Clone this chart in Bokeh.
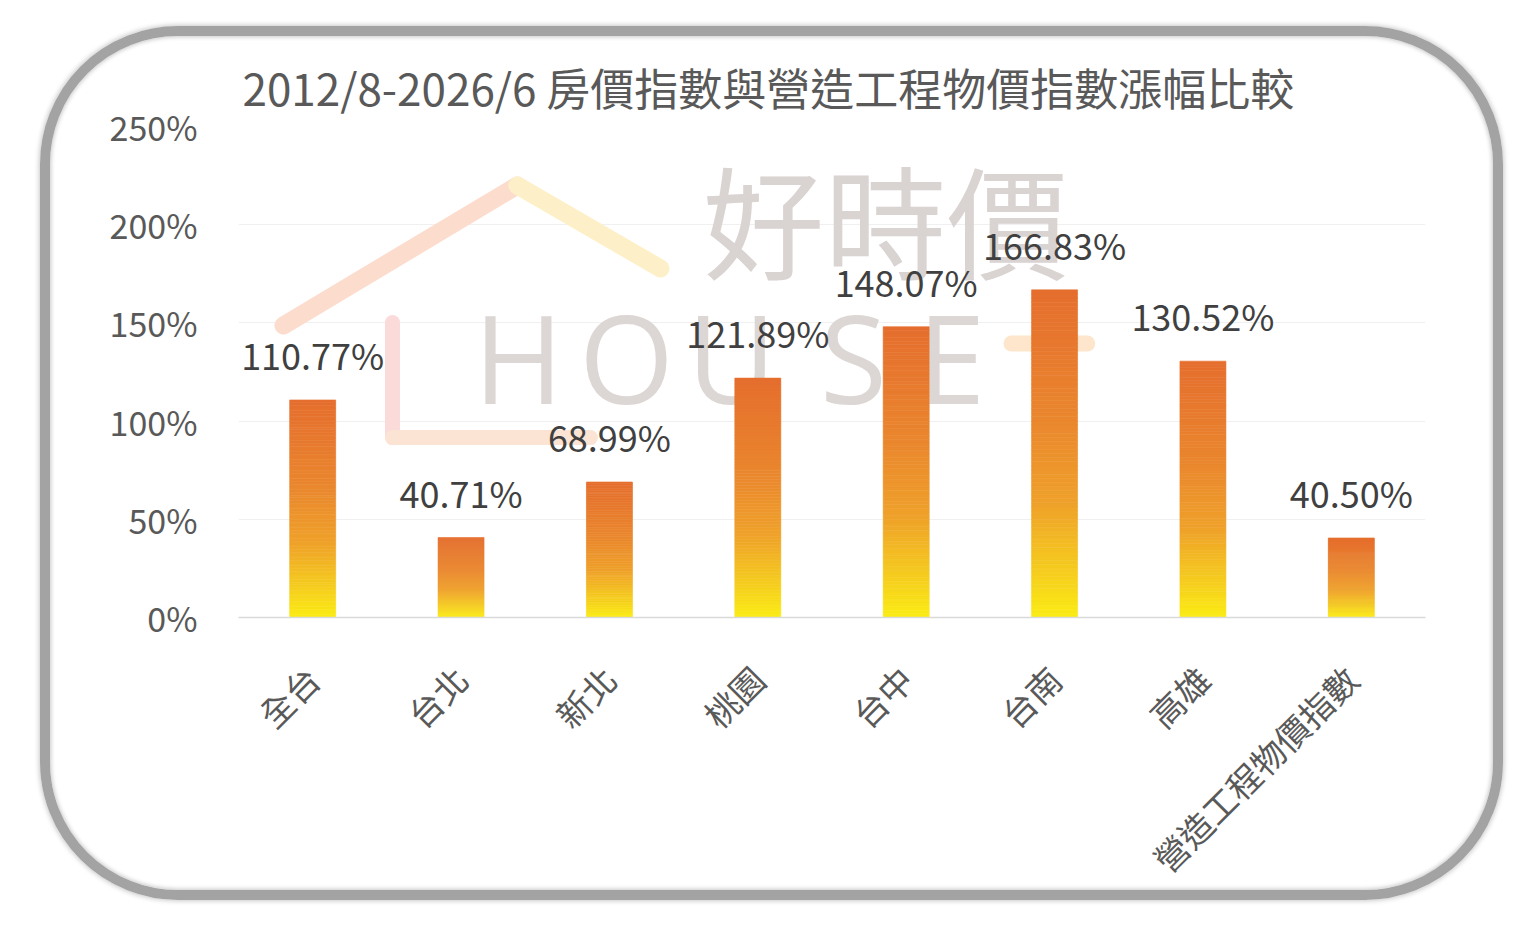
import math
from bokeh.plotting import figure
from bokeh.models import (ColumnDataSource, FactorRange, Range1d, FixedTicker,
                          PrintfTickFormatter, LabelSet, GlobalInlineStyleSheet)
from bokeh.embed import file_html
from bokeh.resources import INLINE
from bokeh.core.properties import value

# ---------------- data ----------------
categories = ["全台", "台北", "新北", "桃園", "台中", "台南", "高雄", "營造工程物價指數"]
values = [110.77, 40.71, 68.99, 121.89, 148.07, 166.83, 130.52, 40.50]
y_ticks = [0, 50, 100, 150, 200, 250]
title_text = "2012/8-2026/6 房價指數與營造工程物價指數漲幅比較"

# bar gradient (bottom -> top)
gradient_stops = [(0.0, "#FBEC14"), (0.15, "#F5CB1F"), (0.35, "#EFA12A"),
                  (0.6, "#EA872E"), (1.0, "#E56E2E")]

# watermark (decorative logo)
wm_title = ["好時價"]
wm_title_x = [4.36]
wm_title_y = [204.0]
wm_letters = ["H", "O", "U", "S", "E"]
wm_letters_x = [1.887, 2.615, 3.323, 4.145, 4.805]
wm_letters_y = [132.6] * 5
wm_roof_left_x = [0.303, 1.880]
wm_roof_left_y = [148.7, 220.0]
wm_roof_right_x = [1.880, 2.844]
wm_roof_right_y = [220.0, 177.7]
wm_l_vert_x = [1.038, 1.038]
wm_l_vert_y = [150.2, 91.6]
wm_l_horz_x = [1.038, 2.372]
wm_l_horz_y = [91.6, 91.6]
wm_plus_x = [5.21, 5.72]
wm_plus_y = [139.5, 139.5]

FONT = "Noto Sans CJK TC"


def hex2rgb(h):
    h = h.lstrip("#")
    return tuple(int(h[i:i + 2], 16) for i in (0, 2, 4))


def grad_color(t):
    for (t0, c0), (t1, c1) in zip(gradient_stops[:-1], gradient_stops[1:]):
        if t0 <= t <= t1:
            f = (t - t0) / (t1 - t0) if t1 > t0 else 0
            a, b = hex2rgb(c0), hex2rgb(c1)
            r = [round(a[i] + (b[i] - a[i]) * f) for i in range(3)]
            return "#%02x%02x%02x" % tuple(r)
    return gradient_stops[-1][1]


# gradient slices for each bar (derived from the data values)
N = 80
seg_x, seg_bottom, seg_top, seg_color = [], [], [], []
for cat, v in zip(categories, values):
    for k in range(N):
        seg_x.append(cat)
        seg_bottom.append(v * k / N)
        seg_top.append(v * (k + 1) / N)
        seg_color.append(grad_color((k + 0.5) / N))
seg_src = ColumnDataSource(dict(x=seg_x, bottom=seg_bottom, top=seg_top, color=seg_color))

label_src = ColumnDataSource(dict(x=categories, y=values,
                                  text=[f"{v:.2f}%" for v in values]))

# ---------------- figure ----------------
p = figure(x_range=FactorRange(*categories, range_padding=0),
           y_range=Range1d(0, 250),
           width=1520, height=922,
           output_backend="svg", toolbar_location=None,
           min_border_left=238, min_border_right=95,
           min_border_top=126, min_border_bottom=305,
           background_fill_color="white", border_fill_color="white",
           outline_line_color=None)

# rounded grey frame around the chart (page decoration)
ring_css = """
body::after {
  content: "";
  position: fixed;
  left: 40px; top: 26px;
  width: 1463px; height: 874px;
  box-sizing: border-box;
  border: 10px solid #a3a3a3;
  border-radius: 138px;
  box-shadow: 0 0 5px 1px rgba(0,0,0,0.22), inset 0 0 4px 1px rgba(0,0,0,0.22);
  pointer-events: none;
  z-index: 1000;
}
"""
p.stylesheets = [GlobalInlineStyleSheet(css=ring_css)]

# title
p.title.text = title_text
p.title.text_font = FONT
p.title.text_font_size = "44px"
p.title.text_font_style = "normal"
p.title.text_color = "#595959"
p.title.align = "left"
p.title.offset = 4
p.title.standoff = 15

# watermark
p.text(x=wm_title_x, y=wm_title_y, text=wm_title, text_font=value(FONT),
       text_font_size="122px", text_color="#d9d3d1", text_align="center",
       text_baseline="middle")
p.text(x=wm_letters_x, y=wm_letters_y, text=wm_letters, text_font=value("Open Sans"),
       text_font_size="122px", text_color="#dcd7d5", text_align="center",
       text_baseline="middle")
p.line(wm_roof_left_x, wm_roof_left_y, line_width=18, line_color="#fcdccd", line_cap="round")
p.line(wm_roof_right_x, wm_roof_right_y, line_width=18, line_color="#fdf0c8", line_cap="round")
p.line(wm_l_vert_x, wm_l_vert_y, line_width=15, line_color="#fbdada", line_cap="round")
p.line(wm_l_horz_x, wm_l_horz_y, line_width=15, line_color="#fbe4d4", line_cap="round")
p.line(wm_plus_x, wm_plus_y, line_width=16, line_color="#fde6cc", line_cap="round")

# bars
p.vbar(x="x", bottom="bottom", top="top", width=0.31, source=seg_src,
       fill_color="color", line_color="color", line_width=0.6)

# data labels
labels = LabelSet(x="x", y="y", text="text", source=label_src,
                  text_font=value(FONT), text_font_size="36px", text_color="#404040",
                  text_align="center", text_baseline="alphabetic", y_offset=30)
p.add_layout(labels)

# axes
p.yaxis.ticker = FixedTicker(ticks=y_ticks)
p.yaxis.formatter = PrintfTickFormatter(format="%d%%")
p.yaxis.axis_line_color = None
p.yaxis.major_tick_line_color = None
p.yaxis.minor_tick_line_color = None
p.yaxis.major_label_text_font = FONT
p.yaxis.major_label_text_font_size = "34px"
p.yaxis.major_label_text_color = "#595959"
p.yaxis.major_label_standoff = 35

p.xaxis.axis_line_color = "#d9d9d9"
p.xaxis.axis_line_width = 1.5
p.xaxis.major_tick_line_color = None
p.xaxis.minor_tick_line_color = None
p.xaxis.major_label_text_font = FONT
p.xaxis.major_label_text_font_size = "34px"
p.xaxis.major_label_text_color = "#595959"
p.xaxis.major_label_orientation = math.pi / 4
p.xaxis.major_label_standoff = 49

p.xgrid.grid_line_color = None
p.ygrid.grid_line_color = "#f0f0f0"
p.ygrid.grid_line_width = 1

open("out.html", "w").write(file_html(p, INLINE))
